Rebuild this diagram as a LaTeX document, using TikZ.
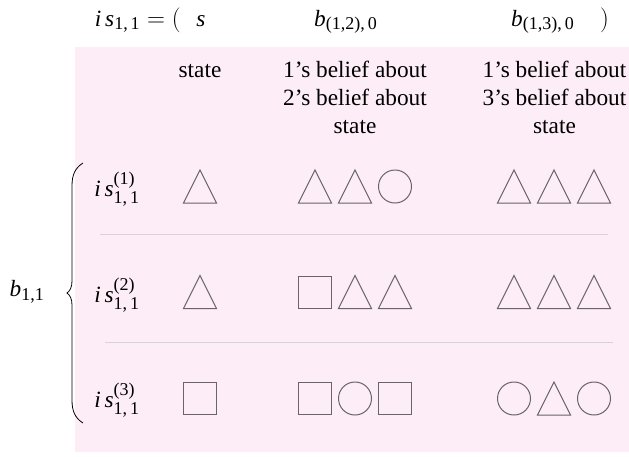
\documentclass[tikz,border=0pt]{standalone}
\usepackage{amsmath}
\usepackage{fontspec}
\setmainfont{Liberation Serif}
\DeclareMathSizes{23.3}{23.3}{18}{14}
\definecolor{pinkbg}{RGB}{252,237,246}
\definecolor{shapegray}{RGB}{105,100,105}
\definecolor{sepgray}{RGB}{215,212,215}
\tikzset{
  txt/.style={inner sep=0pt, font=\fontsize{23.3}{27}\selectfont},
  shp/.style={draw=shapegray, line width=1pt},
  tri/.pic={\draw[shp] (-16.5,16.5) -- (0,-16.5) -- (16.5,16.5) -- cycle;},
  sqr/.pic={\draw[shp] (-16.5,-16) rectangle (16.5,16);},
  circ/.pic={\draw[shp] (0,0) circle [radius=16.5pt];},
  sepline/.style={draw=sepgray, line width=0.7pt},
}
\begin{document}
\begin{tikzpicture}[x=1pt,y=-1pt]
\useasboundingbox (0,0) rectangle (629,456);
\fill[pinkbg] (75,47) rectangle (629,452);

% top row
\node[txt, anchor=base east] (lhs) at (181,26) {$\textit{i\,s}_{\text{1,\,1}}=($};
\node[txt, anchor=base] (s0) at (201,26) {$\textit{s}$};
\node[txt, anchor=base west] (b12) at (314,26) {$\textit{b}_{\text{(1,2),\,0}}$};
\node[txt, anchor=base west] (b13) at (511,26) {$\textit{b}_{\text{(1,3),\,0}}$};
\node[txt, anchor=base west] (rp) at (600,26) {$)$};

% headers
\node[txt, anchor=base] (h1) at (200,77) {state};
\node[txt, anchor=base] (h2a) at (355,77) {1's belief about};
\node[txt, anchor=base] (h2b) at (355,105) {2's belief about};
\node[txt, anchor=base] (h2c) at (355,133) {state};
\node[txt, anchor=base] (h3a) at (554.5,77) {1's belief about};
\node[txt, anchor=base] (h3b) at (554.5,105) {3's belief about};
\node[txt, anchor=base] (h3c) at (554.5,133) {state};

% row labels
\node[txt] (r1) at (117,189) {$\textit{i\,s}^{\text{(1)}}_{\text{1,\,1}}$};
\node[txt] (r2) at (117,295) {$\textit{i\,s}^{\text{(2)}}_{\text{1,\,1}}$};
\node[txt] (r3) at (117,400) {$\textit{i\,s}^{\text{(3)}}_{\text{1,\,1}}$};
\node[txt] (b11) at (27,292) {$\textit{b}_{\text{1,1}}$};

% brace
\draw[line width=0.8pt] (83,163) .. controls (75,168) and (72,175) .. (72,186)
  -- (72,281) .. controls (72,287) and (70,291) .. (67,293)
  .. controls (70,295) and (72,299) .. (72,305)
  -- (72,400) .. controls (72,411) and (75,418) .. (83,423);

% separators
\draw[sepline] (100,234) -- (608,234);
\draw[sepline] (105,342) -- (613,342);

% row 1
\pic at (200,186.5) {tri};
\pic at (315,186.5) {tri};
\pic at (355,186.5) {tri};
\pic at (395,186.5) {circ};
\pic at (514,186.5) {tri};
\pic at (554,186.5) {tri};
\pic at (594,186.5) {tri};
% row 2
\pic at (200,292) {tri};
\pic at (315,292) {sqr};
\pic at (355,292) {tri};
\pic at (395,292) {tri};
\pic at (514,292) {tri};
\pic at (554,292) {tri};
\pic at (594,292) {tri};
% row 3
\pic at (200,398.5) {sqr};
\pic at (315,398.5) {sqr};
\pic at (355,398.5) {circ};
\pic at (395,398.5) {sqr};
\pic at (514,398.5) {circ};
\pic at (554,398.5) {tri};
\pic at (594,398.5) {circ};
\end{tikzpicture}
\end{document}
